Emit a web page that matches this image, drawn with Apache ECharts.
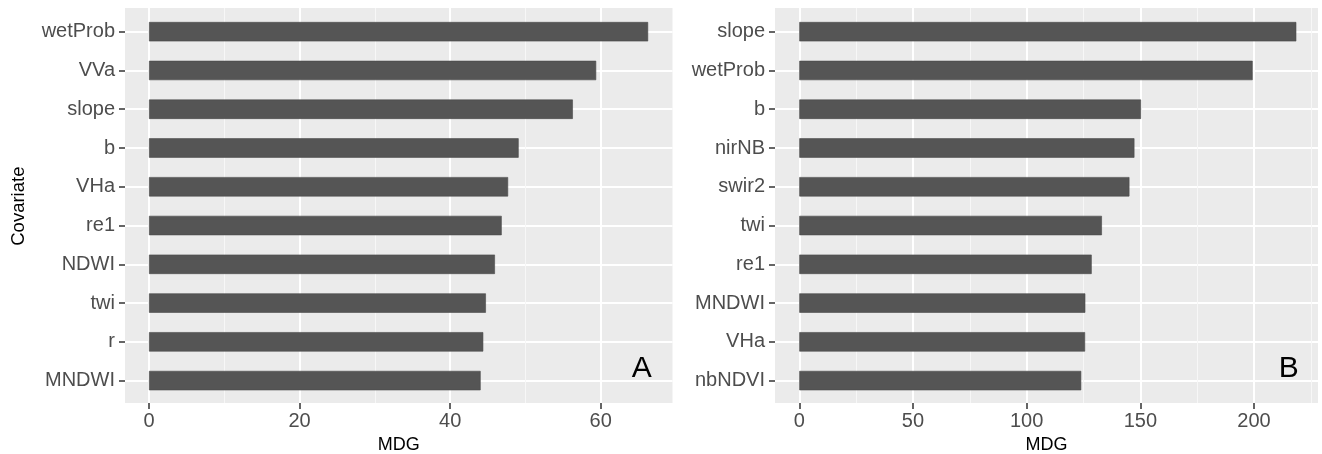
<!DOCTYPE html>
<html>
<head>
<meta charset="utf-8">
<script src="https://cdn.jsdelivr.net/npm/echarts@6/dist/echarts.min.js"></script>
<style>
  html, body { margin: 0; padding: 0; background: #ffffff; }
  #chart { width: 1322px; height: 454px; }
</style>
</head>
<body>
<div id="chart"></div>
<script>
// ---- Data ----
const categoriesA = ['wetProb', 'VVa', 'slope', 'b', 'VHa', 're1', 'NDWI', 'twi', 'r', 'MNDWI'];
const valuesA = [66.3, 59.4, 56.3, 49.1, 47.7, 46.85, 45.95, 44.75, 44.4, 44.05];
const categoriesB = ['slope', 'wetProb', 'b', 'nirNB', 'swir2', 'twi', 're1', 'MNDWI', 'VHa', 'nbNDVI'];
const valuesB = [218.6, 199.4, 150.3, 147.4, 145.2, 133.1, 128.6, 125.8, 125.7, 124.0];
const majorTicksA = [0, 20, 40, 60];
const minorTicksA = [10, 30, 50];
const majorTicksB = [0, 50, 100, 150, 200];
const minorTicksB = [25, 75, 125, 175, 225];
const rangeA = [-3.19, 69.54];
const rangeB = [-10.69, 228.15];
const panelLabels = ['A', 'B'];
const xTitle = 'MDG';
const yTitle = 'Covariate';

// ---- Style ----
const FONT = '"Liberation Sans", Arial, Helvetica, sans-serif';
const BG = '#EBEBEB';
const BAR = '#555555';
const TICK_LABEL = '#4D4D4D';
const TICK = '#333333';

const panels = [
  { left: 125, width: 547.5, cats: categoriesA, vals: valuesA, major: majorTicksA, minor: minorTicksA, range: rangeA, yName: yTitle },
  { left: 775, width: 543, cats: categoriesB, vals: valuesB, major: majorTicksB, minor: minorTicksB, range: rangeB, yName: '' }
];

const grid = [], xAxis = [], yAxis = [], series = [];
panels.forEach((p, i) => {
  const bgGrid = grid.length;
  grid.push({ left: p.left, top: 8, width: p.width, height: 395, show: true, backgroundColor: BG, borderWidth: 0, containLabel: false, outerBoundsMode: 'none' });
  const dataGrid = grid.length;
  grid.push({ left: p.left, top: 31.7, width: p.width, height: 348.9, show: false, containLabel: false, outerBoundsMode: 'none' });

  // major x axis on background grid
  xAxis.push({
    type: 'value', gridIndex: bgGrid, position: 'bottom', min: p.range[0], max: p.range[1],
    axisLine: { show: false, onZero: false },
    axisTick: { show: true, length: 6, customValues: p.major, lineStyle: { color: TICK, width: 1.5 } },
    axisLabel: { show: true, customValues: p.major, margin: 8, fontSize: 20, color: TICK_LABEL, fontFamily: FONT },
    splitLine: { show: true, lineStyle: { color: '#FFFFFF', width: 2 } },
    name: xTitle, nameLocation: 'middle', nameGap: 31,
    nameTextStyle: { fontSize: 18, color: '#000000', fontFamily: FONT }
  });
  // minor x axis on background grid
  xAxis.push({
    type: 'value', gridIndex: bgGrid, position: 'top', min: p.range[0], max: p.range[1],
    axisLine: { show: false, onZero: false },
    axisTick: { show: false, customValues: p.minor },
    axisLabel: { show: false },
    splitLine: { show: true, lineStyle: { color: '#F7F7F7', width: 1 } }
  });
  // hidden x axis for data
  const dataX = xAxis.length;
  xAxis.push({ type: 'value', gridIndex: dataGrid, min: p.range[0], max: p.range[1], show: false, axisLine: { onZero: false } });

  yAxis.push({ type: 'value', gridIndex: bgGrid, show: false, axisLine: { onZero: false } });
  const dataY = yAxis.length;
  yAxis.push({
    type: 'category', gridIndex: dataGrid, data: p.cats, inverse: true, boundaryGap: false, position: 'left',
    axisLine: { show: false, onZero: false },
    axisTick: { show: true, length: 6, lineStyle: { color: TICK, width: 1.5 } },
    axisLabel: { margin: 10, fontSize: 20, color: TICK_LABEL, fontFamily: FONT },
    splitLine: { show: true, lineStyle: { color: '#FFFFFF', width: 2 } },
    name: p.yName, nameLocation: 'middle', nameGap: 97,
    nameTextStyle: { fontSize: 18.5, color: '#000000', fontFamily: FONT }
  });

  series.push({
    type: 'bar', xAxisIndex: dataX, yAxisIndex: dataY, data: p.vals,
    barWidth: '50%', clip: false,
    itemStyle: { color: BAR, borderColor: '#4A4A4A', borderWidth: 0.6 },
    silent: true
  });
});

const option = {
  animation: false,
  backgroundColor: '#ffffff',
  grid, xAxis, yAxis, series,
  graphic: [
    { type: 'text', x: 641.7, y: 369, style: { text: panelLabels[0], fontSize: 30, fontFamily: FONT, fill: '#000000', textAlign: 'center', textVerticalAlign: 'middle' } },
    { type: 'text', x: 1288.7, y: 369, style: { text: panelLabels[1], fontSize: 30, fontFamily: FONT, fill: '#000000', textAlign: 'center', textVerticalAlign: 'middle' } }
  ]
};

const chart = echarts.init(document.getElementById('chart'), null, { renderer: 'canvas' });
chart.setOption(option);
</script>
</body>
</html>
